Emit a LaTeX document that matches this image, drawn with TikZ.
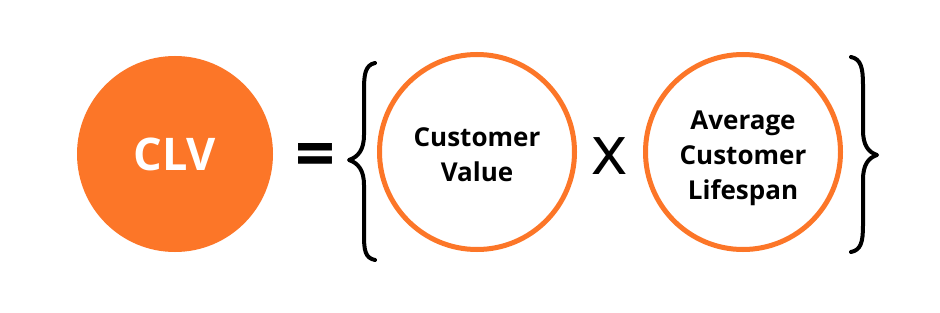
\documentclass[tikz,border=0pt]{standalone}
\usepackage{fontspec}
\setmainfont{Open Sans}
\definecolor{clvorange}{RGB}{252,118,40}
\begin{document}
\begin{tikzpicture}[x=1pt,y=-1pt,
  filledcirc/.style={circle,fill=clvorange,minimum size=196pt,inner sep=0pt,
    text=white,font=\bfseries\fontsize{45}{50}\selectfont},
  ringcirc/.style={circle,draw=clvorange,line width=5pt,minimum size=195pt,inner sep=0pt},
  ringtext/.style={inner sep=0pt,align=center,font=\bfseries\fontsize{26}{35}\selectfont},
  opsign/.style={inner sep=0pt,text=black},
  bracepath/.style={line width=4pt,line cap=round,line join=round,black}]
\useasboundingbox (0,0) rectangle (940,313);
\fill[white] (0,0) rectangle (940,313);
\node[filledcirc] (clv) at (175,154) {CLV};
\node[opsign,font=\bfseries\fontsize{70}{70}\selectfont] (eq) at (315.5,161) {=};
\node[ringcirc] (c1) at (477,152) {};
\node[ringtext] (t1) at (477,154.5) {Customer\\Value};
\node[opsign,font=\fontsize{69}{69}\selectfont] (times) at (610,156) {x};
\node[ringcirc] (c2) at (743,152) {};
\node[ringtext] (t2) at (743,158.5) {Average\\Customer\\Lifespan};
\coordinate (lbtop) at (375,63);
\coordinate (lbtip) at (349,160);
\coordinate (lbbot) at (375,260);
\draw[bracepath] (lbtop) .. controls (365,65) and (364,75) .. (364,90) -- (364,135)
  .. controls (364,150) and (358,157) .. (lbtip)
  .. controls (358,163) and (364,170) .. (364,185) -- (364,235)
  .. controls (364,250) and (365,258) .. (lbbot);
\coordinate (rbtop) at (851,57);
\coordinate (rbtip) at (877,155);
\coordinate (rbbot) at (851,252);
\draw[bracepath] (rbtop) .. controls (861,59) and (863,68) .. (863,85) -- (863,130)
  .. controls (863,145) and (868,152) .. (rbtip)
  .. controls (868,158) and (863,165) .. (863,180) -- (863,225)
  .. controls (863,242) and (861,250) .. (rbbot);
\end{tikzpicture}
\end{document}
